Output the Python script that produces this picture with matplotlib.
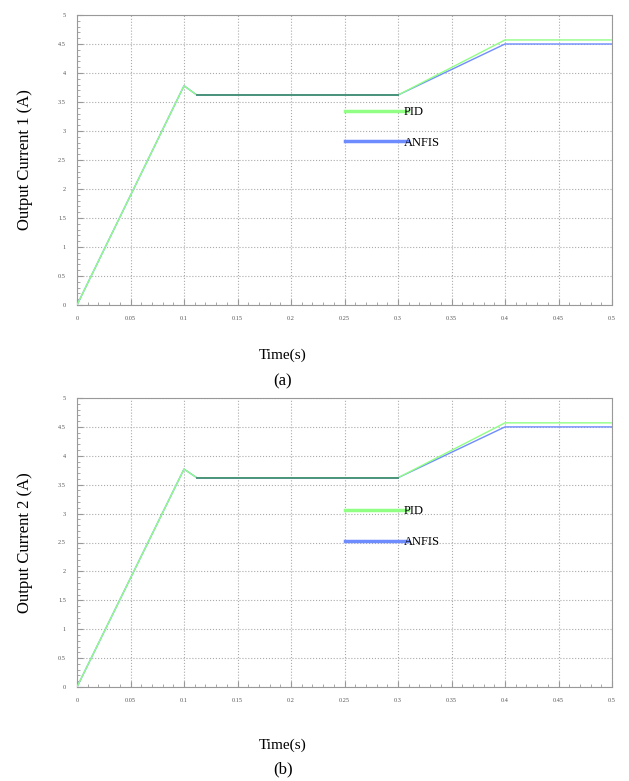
import matplotlib.pyplot as plt
from matplotlib.ticker import MultipleLocator

plt.rcParams['font.family'] = ['Liberation Serif', 'DejaVu Serif']

# time breakpoints (s) and current values (A)
t_pts = [0.0, 0.1, 0.112, 0.3, 0.4, 0.5]
pid_1 = [0.0, 3.78, 3.62, 3.62, 4.57, 4.57]
anfis_1 = [0.0, 3.78, 3.62, 3.62, 4.50, 4.50]
pid_2 = [0.0, 3.77, 3.62, 3.62, 4.57, 4.57]
anfis_2 = [0.0, 3.77, 3.62, 3.62, 4.50, 4.50]

xticks = [0, 0.05, 0.1, 0.15, 0.2, 0.25, 0.3, 0.35, 0.4, 0.45, 0.5]
yticks = [0, 0.5, 1, 1.5, 2, 2.5, 3, 3.5, 4, 4.5, 5]

fig = plt.figure(figsize=(6.29, 7.81), dpi=100)
W, H = 629, 781

panels = [
    (15, 305, pid_1, anfis_1, 'Output Current 1 (A)', 355, 381, '(a)', 0.725),
    (398, 687, pid_2, anfis_2, 'Output Current 2 (A)', 745, 769, '(b)', 0.668),
]

for top, bot, pid, anfis, ylab, ty, cy, cap, leg_y in panels:
    ax = fig.add_axes([77 / W, 1 - bot / H, (612 - 77) / W, (bot - top) / H])
    ax.plot(t_pts, anfis, color='#6f8cff', lw=1.0, label='ANFIS', zorder=3)
    ax.plot(t_pts, pid, color='#90ff84', lw=1.0, label='PID', zorder=4)
    # overlapping section of both responses shows darker
    ax.plot(t_pts[2:4], anfis[2:4], color='#2a6f6a', lw=1.4, alpha=0.7, zorder=5)
    ax.set_xlim(0, 0.5)
    ax.set_ylim(0, 5)
    ax.set_xticks(xticks)
    ax.set_yticks(yticks)
    ax.set_xticklabels([str(v) for v in xticks], fontsize=4.5, color='#555555')
    ax.set_yticklabels([str(v) for v in yticks], fontsize=4.5, color='#555555')
    ax.xaxis.set_minor_locator(MultipleLocator(0.01))
    ax.yaxis.set_minor_locator(MultipleLocator(0.1))
    ax.tick_params(which='both', direction='in', color='#999999')
    ax.tick_params(which='major', length=4, pad=8)
    ax.tick_params(which='minor', length=2)
    ax.grid(True, which='major', linestyle=':', color='#aaaaaa', lw=0.8)
    for s in ax.spines.values():
        s.set_color('#999999')
    h, l = ax.get_legend_handles_labels()
    leg = ax.legend([h[1], h[0]], [l[1], l[0]], frameon=False, fontsize=9,
                    loc='upper left', bbox_to_anchor=(0.48, leg_y),
                    handlelength=5, handletextpad=-0.3, labelspacing=1.5)
    for ln in leg.get_lines():
        ln.set_linewidth(2.5)
    ax.set_ylabel(ylab, fontsize=12, labelpad=18)
    fig.text(283 / W, 1 - ty / H, 'Time(s)', fontsize=11, ha='center', va='center')
    fig.text(283 / W, 1 - cy / H, cap, fontsize=12, ha='center', va='center')

fig.savefig('out.png', dpi=100)
